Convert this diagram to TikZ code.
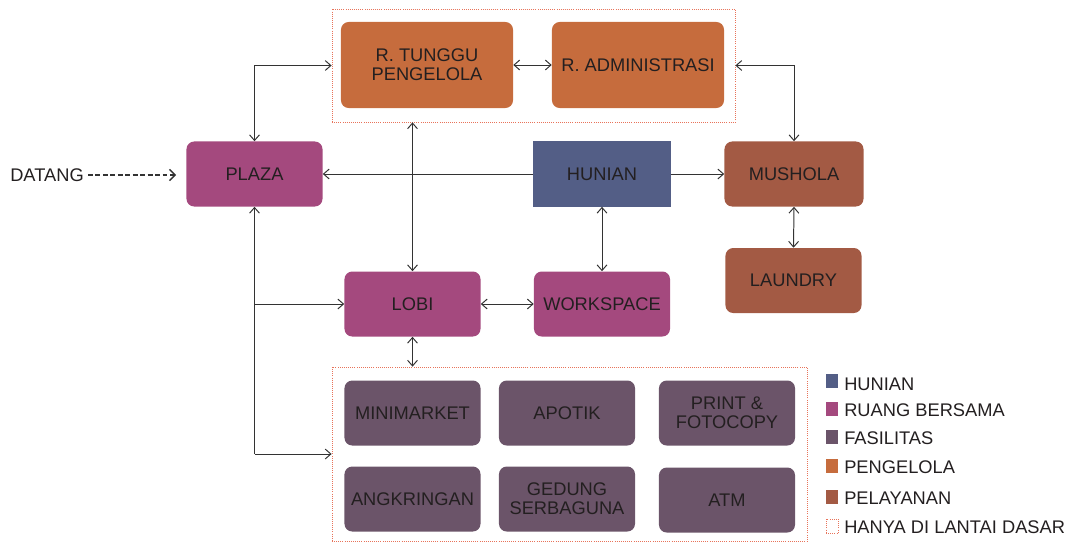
\documentclass[tikz,border=0pt]{standalone}
\usepackage{fontspec}
\setmainfont{Liberation Sans}
\usetikzlibrary{arrows.meta}
\definecolor{hunian}{HTML}{535E86}
\definecolor{bersama}{HTML}{A4497E}
\definecolor{fasilitas}{HTML}{6B5469}
\definecolor{pengelola}{HTML}{C66C3D}
\definecolor{pelayanan}{HTML}{A35A44}
\definecolor{txt}{HTML}{231F20}
\definecolor{garis}{HTML}{333333}
\definecolor{batas}{HTML}{E8735A}

\begin{document}
\begin{tikzpicture}[x=0.025cm,y=-0.025cm]
  \tikzstyle{every node}+=[inner sep=0pt, text=txt, align=center, font=\fontsize{13}{13.5}\selectfont]
  \tikzstyle{room}=[rounded corners=5.5pt, minimum width=3.4cm, minimum height=1.625cm]
  \tikzstyle{big}=[room, minimum width=4.3cm, minimum height=2.15cm, fill=pengelola]
  \tikzstyle{zone}=[draw=batas, densely dotted, line width=0.5pt]
  \tikzstyle{link}=[draw=garis, line width=0.7pt, >={Straight Barb[length=4pt,width=7pt]}]
  \tikzstyle{swatch}=[minimum width=0.3cm, minimum height=0.35cm]
  \useasboundingbox (0,0) rectangle (1070,542);

  \node [zone, minimum width=10.075cm, minimum height=2.825cm] (atas) at (533.5,65.5) {};
  \node [zone, minimum width=11.875cm, minimum height=4.35cm] (bawah) at (569.5,454) {};

  \node [big] (tunggu) at (427,65) {R. TUNGGU\\PENGELOLA};
  \node [big] (admin) at (638,65) {R. ADMINISTRASI};
  \node [room, fill=bersama] (plaza) at (254.5,174) {PLAZA};
  \node [minimum width=3.425cm, minimum height=1.625cm, fill=hunian] (hunian) at (602,174) {HUNIAN};
  \node [room, fill=pelayanan, minimum width=3.475cm] (mushola) at (794,174) {MUSHOLA};
  \node [room, fill=pelayanan] (laundry) at (793.5,280.5) {LAUNDRY};
  \node [room, fill=bersama] (lobi) at (412.5,304) {LOBI};
  \node [room, fill=bersama] (workspace) at (602,304) {WORKSPACE};

  \node [room, fill=fasilitas] (minimarket) at (412.5,413) {MINIMARKET};
  \node [room, fill=fasilitas] (apotik) at (567,413) {APOTIK};
  \node [room, fill=fasilitas] (print) at (727,413) {PRINT \&\\FOTOCOPY};
  \node [room, fill=fasilitas] (angkringan) at (412.5,499) {ANGKRINGAN};
  \node [room, fill=fasilitas] (gedung) at (567,499) {GEDUNG\\SERBAGUNA};
  \node [room, fill=fasilitas] (atm) at (727,500) {ATM};

  \node [anchor=east] (datang) at (84,175) {DATANG};

  \draw [link, ->, line width=1.1pt, dash pattern=on 3.5pt off 1.8pt, shorten >=0.25cm, shorten <=0.1cm,
    >={Straight Barb[length=4pt,width=8pt]}] (datang.east) -- (datang.east -| plaza.west);
  \draw [link, <->] (plaza.north) |- (atas.west);
  \draw [link, <->] (tunggu.east) -- (admin.west);
  \draw [link, <->] (atas.east) -| (mushola.north);
  \draw [link, ->] (hunian.west) -- (plaza.east);
  \draw [link, ->] (hunian.east) -- (mushola.west);
  \draw [link, <->] (lobi.north |- atas.south) -- (lobi.north);
  \draw [link, <->] (hunian.south) -- (workspace.north);
  \draw [link, <->] (mushola.south) -- (laundry.north);
  \draw [link, <->] (lobi.east) -- (workspace.west);
  \draw [link, <->] (lobi.south) -- (lobi.south |- bawah.north);
  \draw [link, <-] (plaza.south) -- (plaza.south |- bawah.west);
  \draw [link, ->] (plaza.south |- lobi.west) -- (lobi.west);
  \draw [link, ->] (plaza.south |- bawah.west) -- (bawah.west);

  \node [swatch, fill=hunian] (khun) at (832,381) {};
  \node [swatch, fill=bersama] (kber) at (832,409) {};
  \node [swatch, fill=fasilitas] (kfas) at (832,437) {};
  \node [swatch, fill=pengelola] (kpeng) at (832,466) {};
  \node [swatch, fill=pelayanan] (kpel) at (832,497) {};
  \node [swatch, zone] (klan) at (832,526) {};
  \node [anchor=west] (thun) at (844,384) {HUNIAN};
  \node [anchor=west] (tber) at (844,410) {RUANG BERSAMA};
  \node [anchor=west] (tfas) at (844,438) {FASILITAS};
  \node [anchor=west] (tpeng) at (844,467) {PENGELOLA};
  \node [anchor=west] (tpel) at (844,498) {PELAYANAN};
  \node [anchor=west] (tlan) at (844,527) {HANYA DI LANTAI DASAR};
\end{tikzpicture}
\end{document}
